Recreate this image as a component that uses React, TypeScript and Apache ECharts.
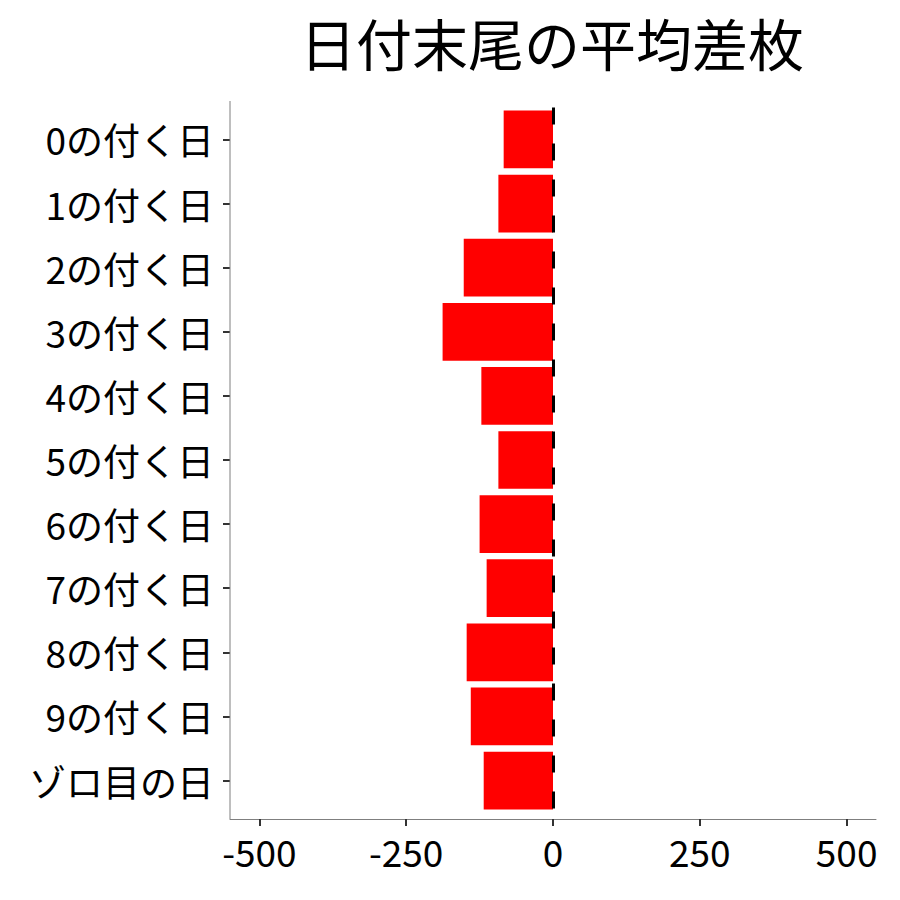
import { useEffect, useRef } from "react";
import * as echarts from "echarts";

const TITLE = "日付末尾の平均差枚";

const categories = [
  "0の付く日",
  "1の付く日",
  "2の付く日",
  "3の付く日",
  "4の付く日",
  "5の付く日",
  "6の付く日",
  "7の付く日",
  "8の付く日",
  "9の付く日",
  "ゾロ目の日",
];

const meanDiff = [-84, -93, -152, -188, -122, -93, -125, -113, -147, -140, -118];

const xTicks = [-500, -250, 0, 250, 500];

const FONT = '"Noto Sans CJK JP", "Noto Sans", sans-serif';

export default function App() {
  const ref = useRef<HTMLDivElement | null>(null);

  useEffect(() => {
    const el = ref.current;
    if (!el) {
      return;
    }

    const chart = echarts.init(el, undefined, { renderer: "svg" });

    // ggplot-style panel: axis lines span a bit past the category bands
    const axisLeft = 230;
    const axisTop = 101;
    const axisBottom = 819;
    const rowPad = 6.4;

    chart.setOption({
      animation: false,
      backgroundColor: "#ffffff",
      textStyle: { fontFamily: FONT },
      title: {
        text: TITLE,
        left: 547,
        top: 8,
        textAlign: "center",
        textStyle: {
          fontFamily: FONT,
          fontSize: 56,
          fontWeight: "normal",
          color: "#000000",
        },
      },
      grid: {
        left: axisLeft,
        right: 24,
        top: axisTop + rowPad,
        bottom: 900 - axisBottom + rowPad,
        containLabel: false,
      },
      xAxis: {
        type: "value",
        min: -550,
        max: 550,
        offset: rowPad,
        splitLine: { show: false },
        axisLine: { show: true, lineStyle: { color: "#7f7f7f", width: 1 } },
        axisTick: {
          show: true,
          length: 7,
          customValues: xTicks,
          lineStyle: { color: "#333333", width: 2 },
        },
        axisLabel: {
          customValues: xTicks,
          margin: 13,
          fontSize: 37,
          fontFamily: FONT,
          color: "#000000",
        },
      },
      yAxis: {
        type: "category",
        data: categories,
        inverse: true,
        axisLine: { show: false, onZero: false },
        axisTick: {
          show: true,
          alignWithLabel: true,
          length: 7,
          lineStyle: { color: "#333333", width: 2 },
        },
        axisLabel: {
          margin: 16,
          fontSize: 37,
          fontFamily: FONT,
          color: "#000000",
        },
        splitLine: { show: false },
      },
      graphic: [
        {
          type: "line",
          shape: { x1: axisLeft, y1: axisTop, x2: axisLeft, y2: axisBottom },
          style: { stroke: "#7f7f7f", lineWidth: 1 },
          z: 10,
        },
      ],
      series: [
        {
          type: "bar",
          data: meanDiff,
          barCategoryGap: "10%",
          itemStyle: { color: "#ff0000" },
          markLine: {
            silent: true,
            symbol: "none",
            label: { show: false },
            lineStyle: { color: "#000000", width: 3, type: [17, 19] },
            data: [{ xAxis: 0 }],
          },
        },
      ],
    });

    return () => {
      chart.dispose();
    };
  }, []);

  return (
    <div
      ref={ref}
      style={{ position: "fixed", left: 0, top: 0, width: 900, height: 900 }}
    />
  );
}
